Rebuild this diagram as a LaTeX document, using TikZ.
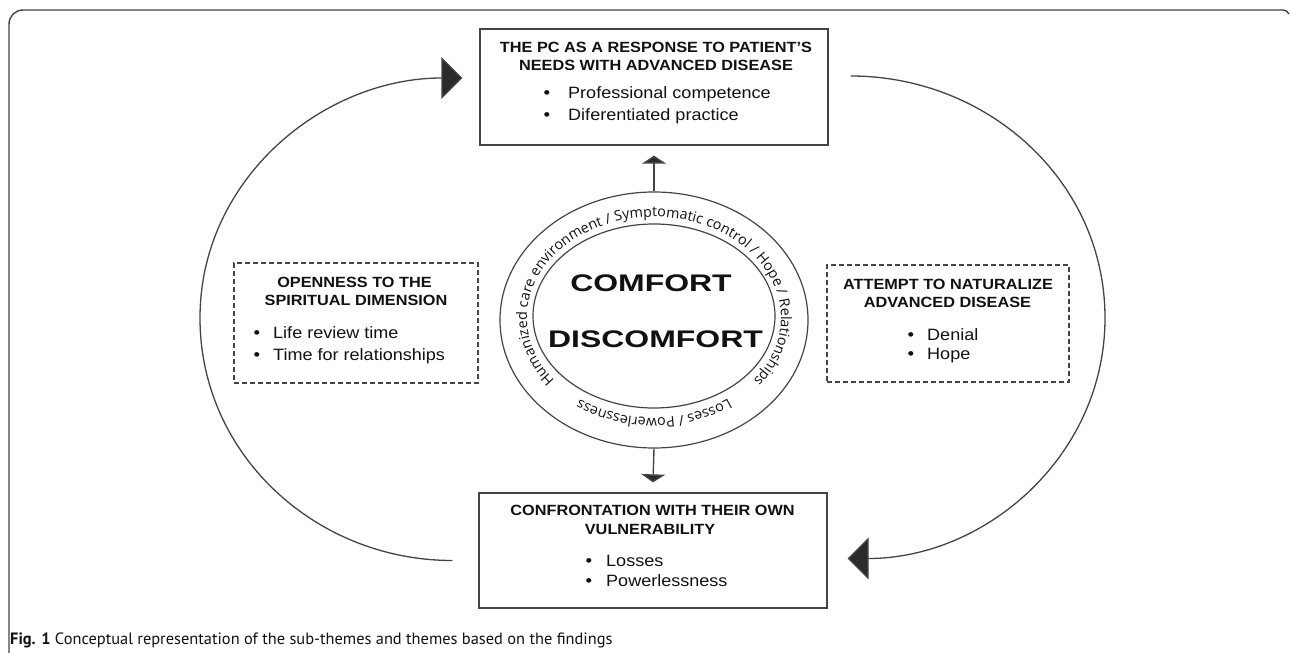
\documentclass[tikz,border=0pt]{standalone}
\usepackage{fontspec}
\setmainfont{Liberation Sans}[FakeStretch=1.1]
\newfontfamily\ringfont{Open Sans}
\newfontfamily\capfont{PT Sans}
\usetikzlibrary{shapes.geometric,arrows.meta,decorations.text}
\definecolor{ln}{HTML}{444444}
\definecolor{tx}{HTML}{111111}
\definecolor{tipc}{HTML}{2B2B2B}
\begin{document}
\begin{tikzpicture}[x=1pt,y=1pt,
  solidbox/.style={draw=ln, line width=1.3pt, inner sep=0pt},
  dashbox/.style={draw=ln, line width=1.2pt, dash pattern=on 5pt off 3pt, inner sep=0pt},
  ttl/.style={font=\bfseries\fontsize{14.8}{17}\selectfont, text=tx, inner sep=0pt, anchor=mid},
  itm/.style={font=\fontsize{16.4}{19}\selectfont, text=tx, inner sep=0pt, anchor=mid west},
  bul/.style={font=\fontsize{17}{19}\selectfont, text=tx, inner sep=0pt, anchor=mid},
  big/.style={font=\bfseries\fontsize{24}{28}\selectfont, text=tx, inner sep=0pt, anchor=mid},
  ring/.style={draw=ln, line width=1.2pt, ellipse, inner sep=0pt},
  bigarc/.style={draw=ln, line width=1.3pt, -{Triangle[length=21pt,width=42pt,fill=tipc]}},
  smallarr/.style={draw=ln, line width=1.4pt, -{Triangle[length=8pt,width=24pt,fill=tipc]}}
]
\useasboundingbox (0,0) rectangle (1290,653);
% frame
\draw[ln, line width=1.4pt] (9,0) -- (9,629) arc[start angle=180,end angle=90,radius=14pt] -- (1283,643) to[out=0,in=120] (1289,639);

% top box
\node[solidbox, minimum width=348pt, minimum height=116pt] (top) at (654,566) {};
\node[ttl] (t1) at (656,603) {THE PC AS A RESPONSE TO PATIENT'S};
\node[ttl] (t2) at (656,585) {NEEDS WITH ADVANCED DISEASE};
\node[bul] (tb1) at (547,557) {•};
\node[itm] (ti1) at (568,557) {Professional competence};
\node[bul] (tb2) at (547,535) {•};
\node[itm] (ti2) at (568,535) {Diferentiated practice};

% bottom box
\node[solidbox, minimum width=348pt, minimum height=115pt] (bot) at (653,102.5) {};
\node[ttl] (b1) at (652.5,140) {CONFRONTATION WITH THEIR OWN};
\node[ttl] (b2) at (650,121) {VULNERABILITY};
\node[bul] (bb1) at (589,89) {•};
\node[itm] (bi1) at (606,89) {Losses};
\node[bul] (bb2) at (589,69) {•};
\node[itm] (bi2) at (606,69) {Powerlessness};

% left dashed box
\node[dashbox, minimum width=244pt, minimum height=120pt] (lb) at (356,330) {};
\node[ttl] (l1) at (354.5,368) {OPENNESS TO THE};
\node[ttl] (l2) at (356,350) {SPIRITUAL DIMENSION};
\node[bul] (lb1) at (257,317) {•};
\node[itm] (li1) at (273,317) {Life review time};
\node[bul] (lb2) at (257,295) {•};
\node[itm] (li2) at (273,295) {Time for relationships};

% right dashed box
\node[dashbox, minimum width=242pt, minimum height=117pt] (rb) at (948,329.5) {};
\node[ttl] (r1) at (948,366) {ATTEMPT TO NATURALIZE};
\node[ttl] (r2) at (947.5,348) {ADVANCED DISEASE};
\node[bul] (rb1) at (911,315) {•};
\node[itm] (ri1) at (927,315) {Denial};
\node[bul] (rb2) at (911,296) {•};
\node[itm] (ri2) at (927,296) {Hope};

% central rings
\node[ring, minimum width=308pt, minimum height=256pt] (outer) at (654,333) {};
\node[ring, minimum width=242pt, minimum height=184pt] (inner) at (654,337) {};
\node[big] (cf) at (651,364) {\scalebox{1.21}[1]{COMFORT}};
\node[big] (dcf) at (655.5,308) {\scalebox{1.21}[1]{DISCOMFORT}};

\path[decorate, decoration={text along path, text align=center,
  text={|\ringfont\fontsize{14.3}{16}\selectfont\color{tx}|Humanized care environment / Symptomatic control / Hope / Relationships}}]
  (654,335) ++(255:127pt and 101pt) arc[start angle=255, end angle=-75, x radius=127pt, y radius=101pt];
\path[decorate, decoration={text along path, text align=center,
  text={|\ringfont\fontsize{14.3}{16}\selectfont\color{tx}|Losses / Powerlessness}}]
  (654,335) ++(-5:126pt and 100pt) arc[start angle=-5, end angle=-175, x radius=126pt, y radius=100pt];

% small arrows
\draw[smallarr] (outer.north) -- ([yshift=-10pt]top.south);
\draw[smallarr] (outer.south) -- ([yshift=10pt]bot.north);

% big arcs
\coordinate (lv) at (200,335);
\coordinate (rv) at (1105,335);
\draw[bigarc] ([xshift=-26pt,yshift=-10pt]bot.west) to[out=180,in=-90] (lv) to[out=90,in=180] ([xshift=-17pt,yshift=9pt]top.west);
\draw[bigarc] ([xshift=22pt,yshift=11pt]top.east) to[out=0,in=90] (rv) to[out=-90,in=0] ([xshift=20pt,yshift=-8pt]bot.east);

% caption
\node[anchor=base west, font=\capfont\fontsize{16.4}{19}\selectfont, text=tx, inner sep=0pt] (cap) at (10,9) {\textbf{Fig. 1} Conceptual representation of the sub-themes and themes based on the findings};
\end{tikzpicture}
\end{document}
